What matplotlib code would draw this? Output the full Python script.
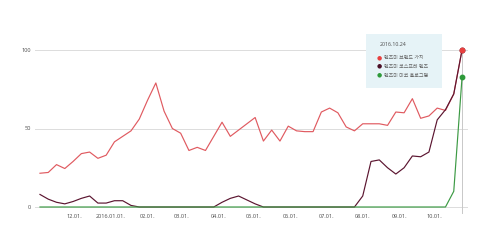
import numpy as np
import pandas as pd
import matplotlib
matplotlib.use("Agg")
import matplotlib.pyplot as plt
import matplotlib.dates as mdates
from matplotlib.patches import Rectangle

plt.rcParams['font.family'] = ['Noto Sans', 'Noto Sans CJK KR', 'DejaVu Sans']

# weekly points, 2015-11-02 .. 2016-10-24
dates = pd.date_range("2015-11-02", "2016-10-24", freq="7D")

brand = [21.5, 22, 27, 24.5, 29, 34, 35, 31, 33, 41.5, 45, 48.5, 56, 68, 79, 61,
         50, 47, 36, 38, 36, 45, 54, 45, 49, 53, 57, 42, 49, 42, 51.5, 48.5,
         48, 48, 60.5, 63, 60, 51, 48.5, 53, 53, 53, 52, 60.5, 60, 69, 56.5, 58,
         63, 61.5, 72, 100]
cosplay = [8, 5, 3, 2, 3.5, 5.5, 7, 2.5, 2.5, 4, 4, 1, 0, 0, 0, 0,
           0, 0, 0, 0, 0, 0, 3, 5.5, 7, 4.5, 2, 0, 0, 0, 0, 0,
           0, 0, 0, 0, 0, 0, 0, 7, 29, 30, 25, 21, 25, 32.5, 32, 35,
           55.5, 62, 72, 100]
hologram = [0] * 50 + [10, 82.5]

names = ["렌즈미 브랜드 가치", "렌즈미 코스프레 렌즈", "렌즈미 미코 홀로그램"]
colors = ["#e05a60", "#5b1530", "#3c9a44"]
marker_colors = ["#e8403f", "#4a0f26", "#2e9a3a"]

tick_dates = pd.to_datetime(["2015-12-01", "2016-01-01", "2016-02-01", "2016-03-01",
                             "2016-04-01", "2016-05-01", "2016-06-01", "2016-07-01",
                             "2016-08-01", "2016-09-01", "2016-10-01"])
tick_labels = ["12.01.", "2016.01.01.", "02.01.", "03.01.", "04.01.", "05.01.",
               "06.01.", "07.01.", "08.01.", "09.01.", "10.01."]

W, H = 500, 247
fig = plt.figure(figsize=(W / 100, H / 100), dpi=100)
ax = fig.add_axes([35 / W, (H - 207) / H, 432 / W, 157 / H])

x = mdates.date2num(dates)
pad = 4.2
ax.set_xlim(x[0] - pad, x[-1] + pad)
ax.set_ylim(0, 100)

for v in [0, 50, 100]:
    ax.axhline(v, color="#dcdcdc", lw=0.7, zorder=1, clip_on=False)

ax.plot([x[-1], x[-1]], [-4, 100], color="#c8c8c8", lw=0.7, zorder=1, clip_on=False)

series = [brand, cosplay, hologram]
for ser, c in zip(series, colors):
    ax.plot(x, ser, color=c, lw=0.85, zorder=3, clip_on=False)
for ser, c in reversed(list(zip(series, marker_colors))):
    ax.plot(x[-1], ser[-1], "o", color=c, ms=3.2, zorder=5, clip_on=False)

for s in ax.spines.values():
    s.set_visible(False)
ax.set_yticks([0, 50, 100])
ax.set_yticklabels(["0", "50", "100"])
ax.set_xticks(mdates.date2num(tick_dates))
ax.set_xticklabels(tick_labels)
ax.tick_params(length=0, labelsize=4, labelcolor="#555555")
ax.tick_params(axis="y", pad=3)
ax.tick_params(axis="x", pad=5)

# tooltip box
fig.add_artist(Rectangle((366 / W, (H - 88) / H), 76 / W, 54 / H,
                         transform=fig.transFigure, facecolor="#e6f3f7",
                         edgecolor="none", zorder=4))
fig.text(380 / W, 1 - 44.5 / H, "2016.10.24", fontsize=3.8, color="#555555",
         va="center", zorder=6)
for i, (n, c) in enumerate(zip(names, marker_colors)):
    yy = 1 - (57.5 + 8.8 * i) / H
    fig.text(379 / W, yy, "●", fontsize=4.2, color=c, va="center", ha="center",
             family=["DejaVu Sans"], zorder=6)
    fig.text(384 / W, yy, n, fontsize=3.6, color="#666666", va="center", zorder=6)

fig.savefig("out.png", dpi=100)
